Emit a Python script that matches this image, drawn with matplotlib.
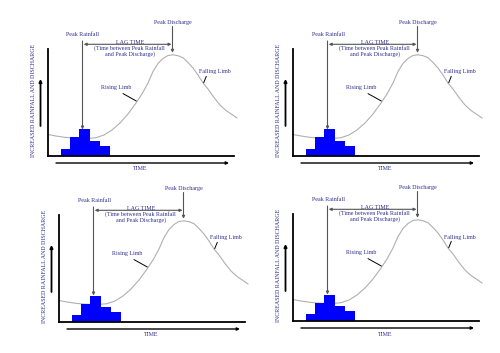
import matplotlib
matplotlib.use("Agg")
import matplotlib.pyplot as plt

# ---- data (time units relative to graph origin) ----
rain_edges = [13, 22, 31, 42, 52, 62]
rain_values = [6.7, 18.5, 26.5, 15, 10]

flow_time = [0, 8, 16, 24, 32, 40, 48, 56, 64, 72, 80, 88, 94, 100, 105,
             110, 115, 120, 125, 130, 135, 140, 145, 150, 155, 160, 166,
             172, 178, 184, 189]
flow_values = [21.5, 20, 18.8, 18, 17.6, 17.6, 18.3, 21, 26, 33, 42, 53,
               62, 73, 84.5, 92.5, 97.5, 100.5, 101.2, 100.3, 98.3, 93.5,
               88, 81, 73, 67, 58.5, 51, 45.5, 41.5, 38]

peak_rain_time = 35
peak_flow_time = 124.5

y_label = "INCREASED RAINFALL AND DISCHARGE"
x_label = "TIME"

W, H = 500, 353
TXT = "#2e2e8f"
FONT = "Liberation Serif"

# panel quadrants (x0, y0, w, h) and local origin inside quadrant
panels = [
    ((0, 0, 250, 176), (48, 156)),
    ((250, 0, 250, 176), (43, 156)),
    ((0, 176, 250, 177), (59, 146)),
    ((250, 176, 250, 177), (43, 145)),
]

fig = plt.figure(figsize=(W / 100, H / 100), dpi=100)
fig.patch.set_facecolor("white")


def draw_panel(ax):
    widths = [rain_edges[i + 1] - rain_edges[i] for i in range(len(rain_values))]
    ax.bar(rain_edges[:-1], rain_values, width=widths, align="edge",
           color="#0000ff", edgecolor="none", zorder=2)
    ax.plot(flow_time, flow_values, color="#b0b0b0", lw=0.8, zorder=1)

    for s in ["top", "right"]:
        ax.spines[s].set_visible(False)
    ax.spines["left"].set_position(("data", 0))
    ax.spines["bottom"].set_position(("data", 0))
    ax.spines["left"].set_bounds(0, 107)
    ax.spines["bottom"].set_bounds(0, 186)
    ax.spines["left"].set_linewidth(1.3)
    ax.spines["bottom"].set_linewidth(1.3)
    ax.set_xticks([])
    ax.set_yticks([])

    kw = dict(color=TXT, fontsize=4.3, family=FONT, ha="center", va="center")
    # axis arrows
    ax.annotate("", xy=(-7.5, 77), xytext=(-7.5, 30),
                arrowprops=dict(arrowstyle="-|>", color="black", lw=1.3,
                                mutation_scale=4, shrinkA=0, shrinkB=0))
    ax.annotate("", xy=(181, -7), xytext=(8, -7),
                arrowprops=dict(arrowstyle="-|>", color="black", lw=1.0,
                                mutation_scale=4, shrinkA=0, shrinkB=0))
    ax.text(92, -13, x_label, **kw)
    ax.text(-14.5, 56, y_label, rotation=90, **kw)

    # peak rainfall
    ax.text(peak_rain_time, 121.7, "Peak Rainfall", **kw)
    ax.annotate("", xy=(peak_rain_time - 0.5, max(rain_values)),
                xytext=(peak_rain_time - 0.5, 115),
                arrowprops=dict(arrowstyle="-|>", color="#555555", lw=0.8,
                                mutation_scale=4, shrinkA=0, shrinkB=0))
    # lag time
    ax.annotate("", xy=(peak_rain_time + 0.7, 111.7), xytext=(peak_flow_time - 1, 111.7),
                arrowprops=dict(arrowstyle="<|-|>", color="#555555", lw=0.8,
                                mutation_scale=4, shrinkA=0, shrinkB=0))
    ax.text(81.7, 113.8, "LAG TIME", **kw)
    ax.text(81.7, 107.6, "(Time between Peak Rainfall", **kw)
    ax.text(81.7, 101.6, "and Peak Discharge)", **kw)

    # peak discharge
    ax.text(125, 133.7, "Peak Discharge", **kw)
    ax.annotate("", xy=(peak_flow_time, max(flow_values) + 2),
                xytext=(peak_flow_time, 129.5),
                arrowprops=dict(arrowstyle="-|>", color="#555555", lw=0.8,
                                mutation_scale=4, shrinkA=0, shrinkB=0))

    # limbs
    ax.text(68.3, 68.3, "Rising Limb", **kw)
    ax.annotate("", xy=(88.3, 55), xytext=(75, 62.4),
                arrowprops=dict(arrowstyle="-", color="black", lw=0.7,
                                shrinkA=0, shrinkB=0))
    ax.text(166.7, 84, "Falling Limb", **kw)
    ax.annotate("", xy=(155.7, 73.3), xytext=(158.3, 79.7),
                arrowprops=dict(arrowstyle="-", color="black", lw=0.7,
                                shrinkA=0, shrinkB=0))


for (x0, y0, w, h), (ox, oy) in panels:
    ax = fig.add_axes([x0 / W, 1 - (y0 + h) / H, w / W, h / H])
    ax.set_xlim(-ox, w - ox)
    ax.set_ylim(oy - h, oy)
    ax.patch.set_alpha(0)
    draw_panel(ax)

fig.savefig("out.png", dpi=100, facecolor="white")
